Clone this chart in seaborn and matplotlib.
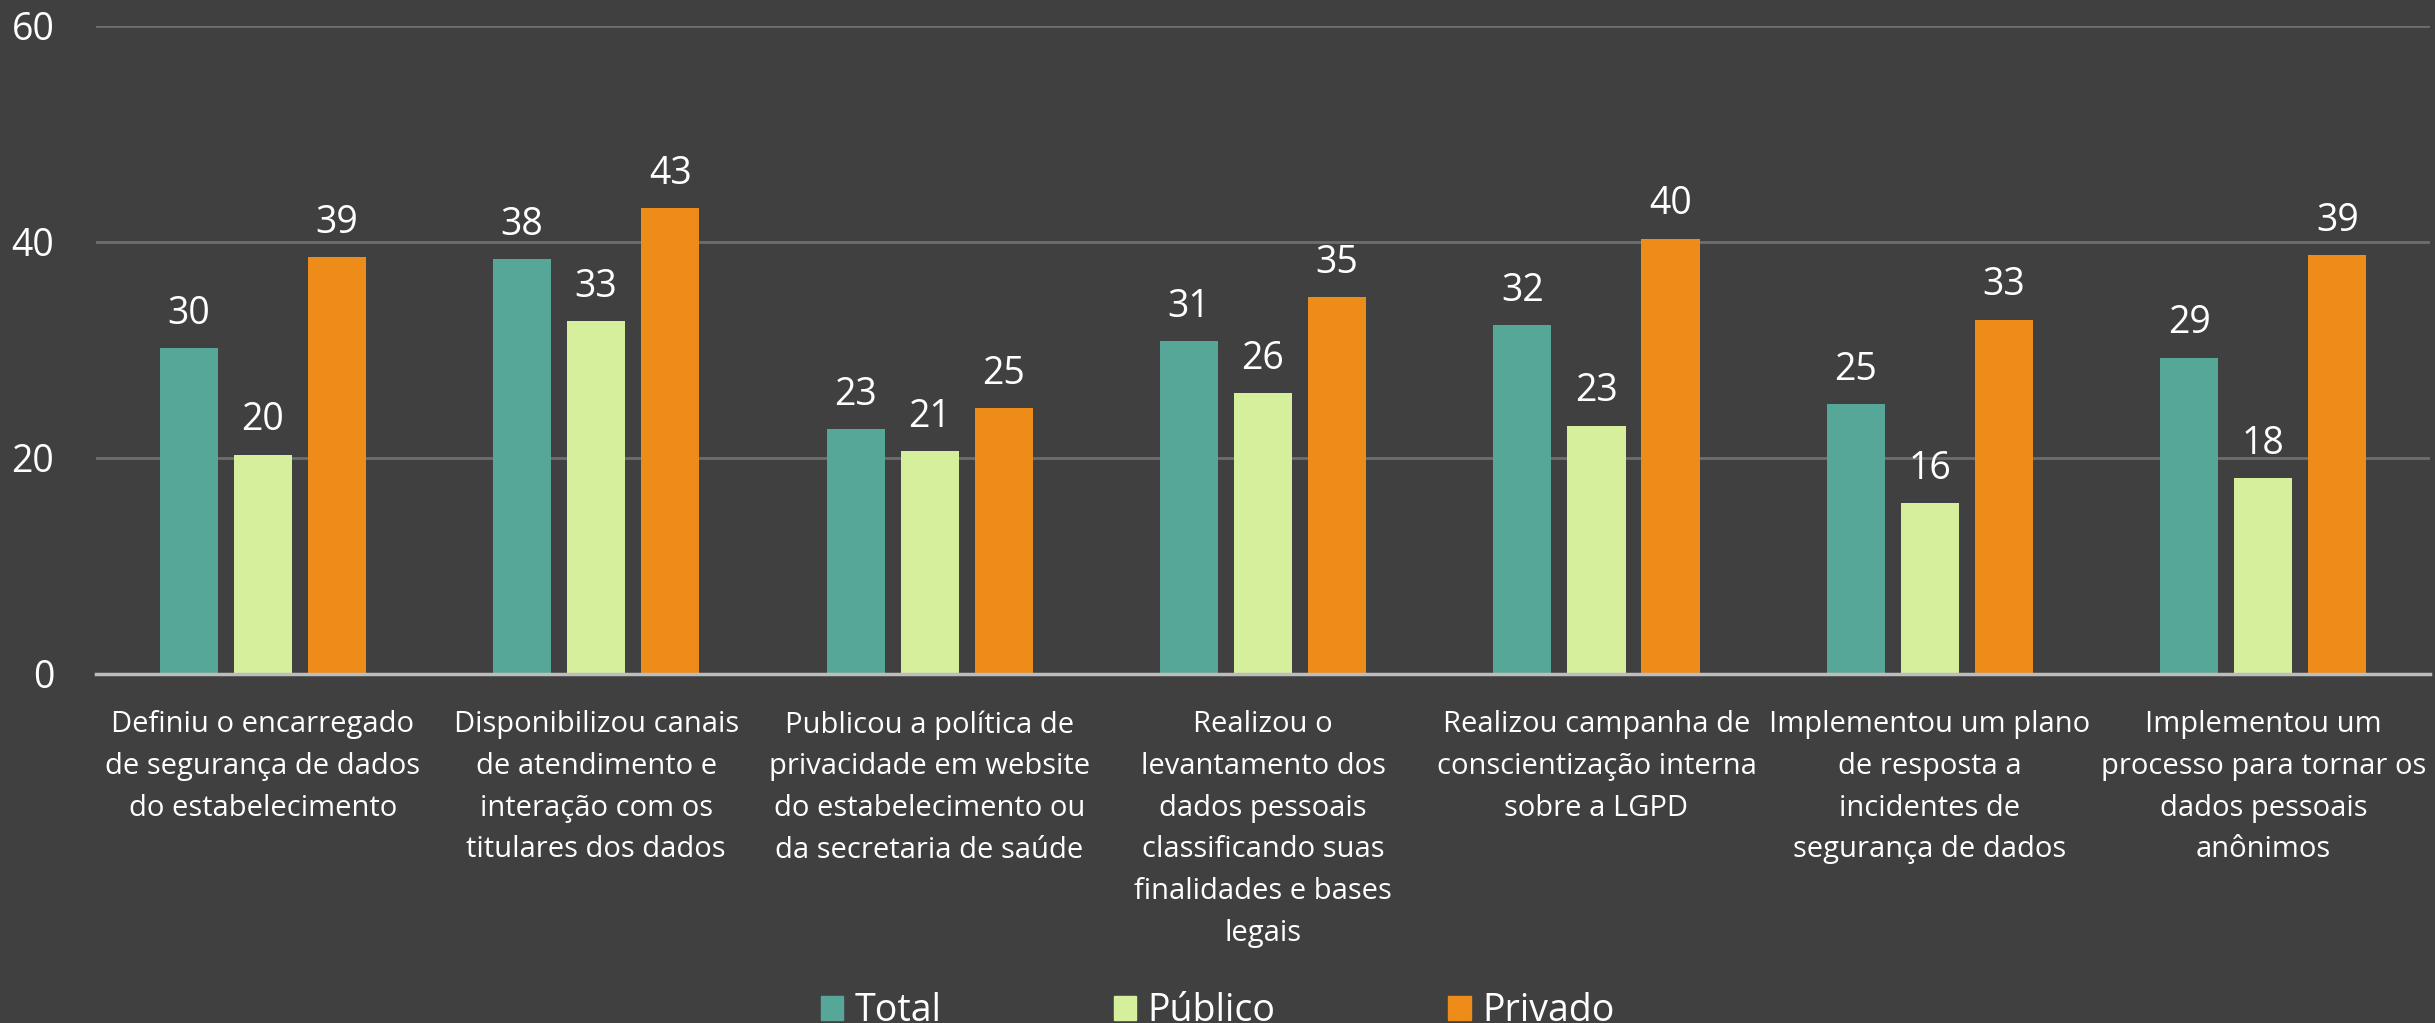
import matplotlib
matplotlib.use("Agg")
import matplotlib.pyplot as plt
import seaborn as sns
import pandas as pd

# --- dados ---
categorias = [
    "Definiu o encarregado\nde segurança de dados\ndo estabelecimento",
    "Disponibilizou canais\nde atendimento e\ninteração com os\ntitulares dos dados",
    "Publicou a política de\nprivacidade em website\ndo estabelecimento ou\nda secretaria de saúde",
    "Realizou o\nlevantamento dos\ndados pessoais\nclassificando suas\nfinalidades e bases\nlegais",
    "Realizou campanha de\nconscientização interna\nsobre a LGPD",
    "Implementou um plano\nde resposta a\nincidentes de\nsegurança de dados",
    "Implementou um\nprocesso para tornar os\ndados pessoais\nanônimos",
]
series = ["Total", "Público", "Privado"]
total = [30.2, 38.4, 22.7, 30.8, 32.3, 25.0, 29.3]
publico = [20.3, 32.7, 20.6, 26.0, 23.0, 15.8, 18.1]
privado = [38.6, 43.1, 24.6, 34.9, 40.3, 32.8, 38.8]
cores = ["#56A797", "#D5EF9D", "#EE8C1A"]

df = pd.DataFrame({
    "categoria": categorias * 3,
    "serie": [s for s in series for _ in categorias],
    "valor": total + publico + privado,
})

BG = "#404040"
sns.set_theme(style="white")
plt.rcParams["font.family"] = ["Open Sans", "DejaVu Sans"]

fig = plt.figure(figsize=(24.35, 10.23), dpi=100, facecolor=BG)
ax = fig.add_axes([0.0394, 0.3412, 0.9586, 0.6334])
ax.set_facecolor(BG)

sns.barplot(data=df, x="categoria", y="valor", hue="serie", hue_order=series,
            palette=cores, saturation=1, width=0.666, gap=0.216, linewidth=0,
            ax=ax, legend=False)

for cont in ax.containers:
    ax.bar_label(cont, fmt="%.0f", padding=11, color="white", fontsize=27)

ax.set_ylim(0, 60)
ax.set_yticks([0, 20, 40, 60])
ax.set_xlim(-0.5, 6.5)
ax.yaxis.grid(True, color="#6e6e6e", linewidth=2)
ax.set_axisbelow(True)
for s in ["top", "left", "right"]:
    ax.spines[s].set_visible(False)
ax.spines["bottom"].set_color("#bdbdbd")
ax.spines["bottom"].set_linewidth(2.5)
ax.tick_params(axis="y", length=0, pad=30, labelsize=27, labelcolor="white")
ax.tick_params(axis="x", length=0, pad=26, labelsize=21, labelcolor="white")
for t in ax.get_xticklabels():
    t.set_linespacing(1.58)
ax.set_xlabel("")
ax.set_ylabel("")

handles = [plt.Rectangle((0, 0), 1, 1, color=c) for c in cores]
fig.legend(handles, series, loc="lower center", bbox_to_anchor=(0.5, -0.04),
           ncol=3, frameon=False, fontsize=27, labelcolor="white",
           handlelength=0.6, handleheight=0.6, handletextpad=0.3,
           columnspacing=4.6)

plt.savefig("out.png", dpi=100, facecolor=BG)
